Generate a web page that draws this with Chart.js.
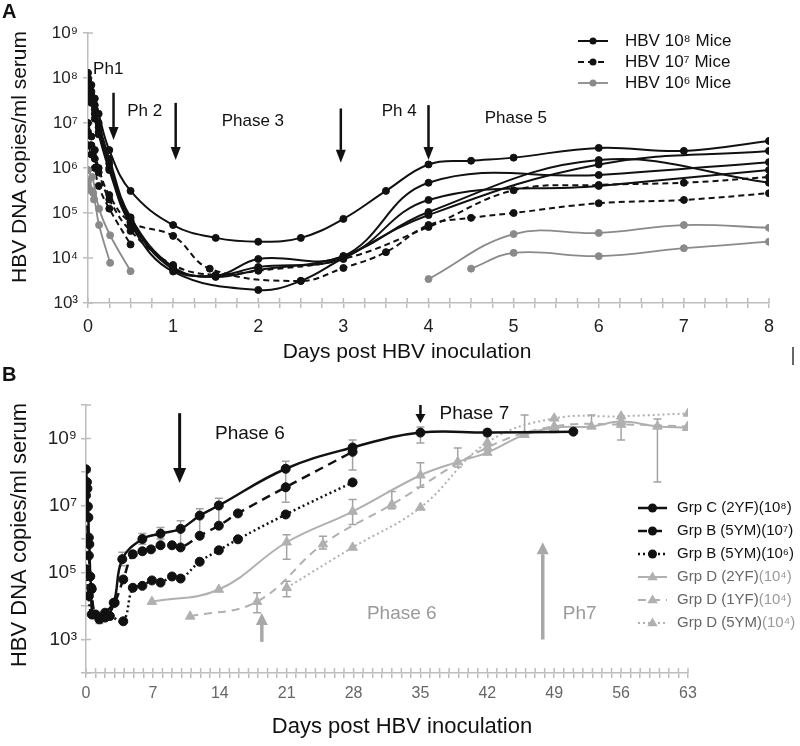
<!DOCTYPE html>
<html>
<head>
<meta charset="utf-8">
<script src="https://cdn.jsdelivr.net/npm/chart.js@4.4.1/dist/chart.umd.min.js"></script>
<style>
  html, body { margin: 0; padding: 0; background: #fff; }
  #wrapA { position: absolute; left: 0; top: 0; width: 800px; height: 380px; }
  #wrapB { position: absolute; left: 0; top: 360px; width: 800px; height: 386px; }
</style>
</head>
<body>
<div id="wrapA"><canvas id="chartA" width="800" height="380"></canvas></div>
<div id="wrapB"><canvas id="chartB" width="800" height="386"></canvas></div>
<script>
/* ---------------- DATA : panel A (days, copies/ml) ---------------- */

const A_DAY_LABELS = [0, 1, 2, 3, 4, 5, 6, 7, 8];
const A_DECADES = [1e3, 1e4, 1e5, 1e6, 1e7, 1e8, 1e9];

// HBV 10^8 mice (solid black)
const m8aDays = [0, 0.04, 0.08, 0.125, 0.25, 0.5, 1, 1.5, 2, 2.5, 3, 3.5, 4, 4.5, 5, 6, 7, 8];
const m8aCopies = [1.3e8, 7e7, 3.5e7, 1.6e7, 2.5e6, 3.1e5, 5.4e4, 2.8e4, 2.3e4, 2.8e4, 7.4e4, 3.1e5, 1.2e6, 1.45e6, 1.7e6, 2.8e6, 2.4e6, 4e6];
const m8bDays = [0, 0.04, 0.08, 0.125, 0.25, 0.5, 1, 1.5, 2, 3, 4, 6, 8];
const m8bCopies = [1e8, 5e7, 2.5e7, 1e7, 1.6e6, 8e4, 6.3e3, 4e3, 9.5e3, 1.1e4, 4.7e5, 7e5, 1.35e6];
const m8cDays = [0, 0.04, 0.08, 0.125, 0.25, 0.5, 1, 1.5, 2, 3, 4, 6, 8];
const m8cCopies = [9e7, 4e7, 2e7, 8e6, 1.25e6, 7e4, 5.6e3, 4e3, 6.3e3, 1e4, 1.95e5, 4e5, 9e5];
const m8dDays = [0, 0.04, 0.08, 0.125, 0.25, 0.5, 1, 1.5, 2, 3, 4, 6, 8];
const m8dCopies = [8e7, 3.2e7, 1.6e7, 6.3e6, 1e6, 6.3e4, 6e3, 3.8e3, 5.4e3, 1.1e4, 1.05e5, 1.5e6, 4.7e5];
const m8eDays = [0, 0.04, 0.08, 0.125, 0.25, 0.5, 1, 2, 2.5, 3, 4, 6, 8];
const m8eCopies = [7e7, 2.8e7, 1.25e7, 5.6e6, 9e5, 5.6e4, 5e3, 1.95e3, 3.1e3, 1e4, 9e4, 1.2e6, 2.4e6];

// HBV 10^7 mice (dashed black)
const m7aDays = [0, 0.04, 0.08, 0.125, 0.25, 0.5, 1, 1.43, 2.5, 3, 3.5, 4, 4.5, 5, 6, 7, 8];
const m7aCopies = [1e7, 5e6, 2.5e6, 1e6, 2.5e5, 6.3e4, 3.1e4, 5.8e3, 3.1e3, 6e3, 1.35e4, 5.4e4, 7.8e4, 1e5, 1.65e5, 1.95e5, 2.75e5];
const m7bDays = [0, 0.04, 0.08, 0.125, 0.25, 0.5, 1, 1.5, 2, 3, 4, 5, 6, 7, 8];
const m7bCopies = [6.3e6, 3.2e6, 1.6e6, 8e5, 2e5, 4e4, 7e3, 4.2e3, 5.2e3, 9.5e3, 4.9e4, 3.2e5, 4.2e5, 4.7e5, 6.3e5];
const m7cDays = [0, 0.04, 0.08, 0.125, 0.25, 0.5];
const m7cCopies = [3.2e6, 2e6, 1e6, 4e5, 1.25e5, 2e4];

// HBV 10^6 mice (grey)
const m6aDays = [0, 0.05, 0.13, 0.26, 0.5];
const m6aCopies = [9e5, 6.3e5, 1.25e5, 3.2e4, 5.1e3];
const m6bDays = [0, 0.06, 0.13, 0.26];
const m6bCopies = [5e5, 2.8e5, 5.4e4, 7.8e3];
const m6cDays = [0, 0.03, 0.07];
const m6cCopies = [4e5, 3.2e5, 2e5];
const m6dDays = [4, 5, 6, 7, 8];
const m6dCopies = [3.4e3, 3.4e4, 3.6e4, 5.4e4, 4.7e4];
const m6eDays = [4.5, 5, 6, 7, 8];
const m6eCopies = [5.8e3, 1.3e4, 1.1e4, 1.65e4, 2.3e4];

// phase marks, panel A
const A_ARROWS = [
  { day: 0.3, from: 4.7e7, to: 4.2e6 },
  { day: 1.03, from: 2.8e7, to: 1.5e6 },
  { day: 2.97, from: 2.1e7, to: 1.3e6 },
  { day: 4.0, from: 2.5e7, to: 1.5e6 }
];
const A_NOTES = [
  { text: "Ph1", day: 0.06, at: 1.6e8 },
  { text: "Ph 2", day: 0.46, at: 1.85e7 },
  { text: "Phase 3", day: 1.57, at: 1.07e7 },
  { text: "Ph 4", day: 3.45, at: 1.85e7 },
  { text: "Phase 5", day: 4.66, at: 1.26e7 }
];

/* ---------------- DATA : panel B ---------------- */

const B_DAY_LABELS = [0, 7, 14, 21, 28, 35, 42, 49, 56, 63];
const B_DECADES = [1e2, 1e3, 1e4, 1e5, 1e6, 1e7, 1e8, 1e9, 1e10];

const grpCDays = [0, 0.1, 0.15, 0.2, 0.25, 0.3, 0.35, 0.45, 0.55, 0.7, 1.4, 2, 2.9, 3.8, 5.9, 7.8, 9.9, 11.9, 13.9, 20.9, 27.9, 35, 42, 51];
const grpCCopies = [1.2e8, 5e7, 3.2e7, 9.3e6, 4.4e6, 1.1e6, 7e5, 7.6e4, 3.5e4, 5.6e3, 4e3, 6.3e3, 1.25e4, 2.5e5, 1e6, 1.45e6, 2e6, 5e6, 1e7, 1.25e8, 5.4e8, 1.5e9, 1.5e9, 1.6e9];
const grpCErrDays = [1.4, 3.8, 5.9, 7.8, 9.9, 11.9, 13.9, 20.9, 27.9, 35, 42];
const grpCErrHi = [5.5e3, 4e5, 1.45e6, 2.2e6, 3.5e6, 8e6, 1.65e7, 2.1e8, 9e8, 2.2e9, 1.9e9];
const grpCErrLo = [3e3, 1.6e5, 7e5, 1e6, 5.6e5, 1.25e6, 2.3e6, 1.25e7, 1.15e8, 7.4e8, 1.2e9];

const grpB7Days = [0, 0.3, 0.6, 1, 2, 3, 3.9, 4.9, 5.9, 6.8, 7.8, 9, 9.9, 11.9, 13.9, 15.9, 20.9, 27.9];
const grpB7Copies = [2e7, 3.2e5, 3.2e4, 5.6e3, 4.5e3, 1.25e4, 6.2e4, 3.5e5, 4.3e5, 4.9e5, 6.5e5, 6.5e5, 5.6e5, 1.25e6, 2.5e6, 5.8e6, 3.5e7, 4e8];

const grpB6Days = [0, 0.3, 0.6, 1.5, 2.5, 3.9, 4.9, 5.9, 6.9, 7.8, 9, 9.9, 11.9, 13.9, 15.9, 20.9, 27.9];
const grpB6Copies = [1.25e5, 2e4, 5.6e3, 4.5e3, 5e3, 3.5e3, 3.5e4, 4e4, 5.8e4, 5e4, 7.6e4, 6.6e4, 2.1e5, 4.6e5, 9.8e5, 5.4e6, 4.9e7];

const grpD2Days = [6.9, 13.9, 21, 27.9, 35, 38.9, 42, 45.9, 49, 52.9, 56, 59.8, 62.9];
const grpD2Copies = [1.35e4, 3.1e4, 8e5, 6.6e6, 8e7, 2e8, 3.8e8, 1.3e9, 2.1e9, 2.3e9, 3.2e9, 2.3e9, 2.1e9];
const grpD2ErrDays = [21, 27.9, 35, 38.9, 45.9, 49, 52.9, 56, 59.8];
const grpD2ErrHi = [1.35e6, 1.5e7, 1.9e8, 5.2e8, 5e9, 3.8e9, 5e9, 4.5e9, 3.8e9];
const grpD2ErrLo = [2.5e5, 2.7e6, 3.5e7, 1.4e8, 1.3e9, 1.5e9, 2.3e9, 9e8, 5e7];

const grpD1Days = [10.9, 17.9, 24.8, 32, 42, 49, 56, 63];
const grpD1Copies = [4.9e3, 1.35e4, 7e5, 1.07e7, 5.4e8, 2.3e9, 2.6e9, 2.3e9];
const grpD1ErrDays = [17.9, 24.8, 32];
const grpD1ErrHi = [2.5e4, 1.2e6, 2.6e7];
const grpD1ErrLo = [6.3e3, 5e5, 8e6];

const grpD5Days = [21, 27.9, 35, 42, 49, 56, 63];
const grpD5Copies = [3.5e4, 5.6e5, 8.7e6, 7.6e8, 4e9, 4.6e9, 5.6e9];
const grpD5ErrDays = [21];
const grpD5ErrHi = [5.5e4];
const grpD5ErrLo = [1.9e4];

const B_ARROWS = [
  { day: 9.8, from: 5.7e9, to: 4.7e7, color: "#111", width: 3, head: [13, 15] },
  { day: 35, from: 1e10, to: 2.9e9, color: "#111", width: 2.5, head: [10, 9] },
  { day: 18.4, from: 8.5e2, to: 6.2e3, color: "#a8a8a8", width: 3.5, head: [12, 12] },
  { day: 47.8, from: 1e3, to: 8e5, color: "#a8a8a8", width: 3.5, head: [12, 12] }
];
const B_NOTES = [
  { text: "Phase 6", day: 13.5, at: 1.35e9, color: "#111" },
  { text: "Phase 7", day: 37, at: 5.4e9, color: "#111" },
  { text: "Phase 6", day: 29.4, at: 5.8e3, color: "#9a9a9a" },
  { text: "Ph7", day: 49.9, at: 5.8e3, color: "#9a9a9a" }
];

/* ---------------- STYLE ---------------- */

const BLACK = "#111";
const GREY_A = "#8a8a8a";
const GREY_B = "#b0b0b0";
const AXIS = "#bdbdbd";
const ERR = "#a3a3a3";
const FONT = "'Liberation Sans', Arial, sans-serif";
const SUP = ["⁰", "¹", "²", "³", "⁴", "⁵", "⁶", "⁷", "⁸", "⁹"];

function pow10(n) {
  return "10" + String(n).split("").map(c => SUP[+c]).join("");
}

function series(days, copies, style, err) {
  const ds = Object.assign({
    data: days.map((d, i) => ({ x: d, y: copies[i] })),
    fill: false,
    tension: 0.4,
    pointBorderWidth: 1
  }, style);
  ds.pointBackgroundColor = style.borderColor;
  ds.pointBorderColor = style.borderColor;
  ds.backgroundColor = style.borderColor;
  if (err) ds.err = err;
  return ds;
}

/* ---------------- DRAW HELPERS ---------------- */

function drawArrow(ctx, px, y0, y1, color, width, head) {
  const dir = y1 > y0 ? 1 : -1;
  const [hw, hl] = head;
  ctx.save();
  ctx.strokeStyle = color;
  ctx.fillStyle = color;
  ctx.lineWidth = width;
  ctx.beginPath();
  ctx.moveTo(px, y0);
  ctx.lineTo(px, y1 - dir * hl);
  ctx.stroke();
  ctx.beginPath();
  ctx.moveTo(px - hw / 2, y1 - dir * hl);
  ctx.lineTo(px + hw / 2, y1 - dir * hl);
  ctx.lineTo(px, y1);
  ctx.closePath();
  ctx.fill();
  ctx.restore();
}

function drawMarker(ctx, style, x, y, r, color) {
  ctx.fillStyle = color;
  ctx.beginPath();
  if (style === "triangle") {
    ctx.moveTo(x, y - r);
    ctx.lineTo(x + r * 0.95, y + r * 0.6);
    ctx.lineTo(x - r * 0.95, y + r * 0.6);
    ctx.closePath();
  } else {
    ctx.arc(x, y, r, 0, Math.PI * 2);
  }
  ctx.fill();
}

// small inner half of each axis tick, so the marks cross the axis line
function drawInnerTicks(chart) {
  const { ctx, chartArea, scales: { x, y } } = chart;
  ctx.save();
  ctx.strokeStyle = AXIS;
  ctx.lineWidth = 1.5;
  ctx.beginPath();
  x.ticks.forEach(t => {
    const px = x.getPixelForValue(t.value);
    ctx.moveTo(px, chartArea.bottom);
    ctx.lineTo(px, chartArea.bottom - 5);
  });
  y.ticks.forEach(t => {
    const py = y.getPixelForValue(t.value);
    ctx.moveTo(chartArea.left, py);
    ctx.lineTo(chartArea.left + 5, py);
  });
  ctx.stroke();
  ctx.restore();
}

function makeDecor(cfg) {
  return {
    id: "decor",
    beforeDatasetsDraw(chart) {
      drawInnerTicks(chart);
      const { ctx, scales: { x, y } } = chart;
      chart.data.datasets.forEach(ds => {
        if (!ds.err) return;
        ctx.save();
        ctx.strokeStyle = ERR;
        ctx.lineWidth = 1.5;
        ds.err.days.forEach((d, i) => {
          const px = x.getPixelForValue(d);
          const top = y.getPixelForValue(ds.err.hi[i]);
          const bot = y.getPixelForValue(ds.err.lo[i]);
          ctx.beginPath();
          ctx.moveTo(px, top); ctx.lineTo(px, bot);
          ctx.moveTo(px - 4, top); ctx.lineTo(px + 4, top);
          ctx.moveTo(px - 4, bot); ctx.lineTo(px + 4, bot);
          ctx.stroke();
        });
        ctx.restore();
      });
    },
    afterDraw(chart) {
      const { ctx, scales: { x, y } } = chart;

      cfg.arrows.forEach(a => drawArrow(ctx, x.getPixelForValue(a.day),
        y.getPixelForValue(a.from), y.getPixelForValue(a.to),
        a.color || BLACK, a.width || 2.5, a.head || [10, 13]));

      ctx.save();
      ctx.textBaseline = "middle";
      ctx.textAlign = "left";
      cfg.notes.forEach(n => {
        ctx.font = cfg.noteFont;
        ctx.fillStyle = n.color || "#111";
        ctx.fillText(n.text, x.getPixelForValue(n.day), y.getPixelForValue(n.at));
      });
      ctx.restore();

      // titles and panel letters
      cfg.texts.forEach(t => {
        ctx.save();
        ctx.font = t.font;
        ctx.fillStyle = t.color || "#111";
        ctx.textAlign = t.align || "center";
        ctx.textBaseline = t.baseline || "middle";
        ctx.translate(t.x, t.y);
        if (t.rotate) ctx.rotate(t.rotate);
        ctx.fillText(t.text, 0, 0);
        ctx.restore();
      });

      (cfg.marks || []).forEach(m => {
        ctx.save();
        ctx.strokeStyle = "#333";
        ctx.lineWidth = 1.5;
        ctx.beginPath();
        ctx.moveTo(m[0], m[1]); ctx.lineTo(m[2], m[3]);
        ctx.stroke();
        ctx.restore();
      });

      // legend
      const lg = cfg.legend;
      lg.items.forEach((it, i) => {
        const ds = chart.data.datasets[it.ds];
        const ly = lg.y + i * lg.gap;
        ctx.save();
        ctx.strokeStyle = ds.borderColor;
        ctx.lineWidth = ds.borderWidth;
        ctx.setLineDash(ds.borderDash || []);
        ctx.beginPath();
        ctx.moveTo(lg.x0, ly); ctx.lineTo(lg.x1, ly);
        ctx.stroke();
        ctx.setLineDash([]);
        drawMarker(ctx, ds.pointStyle, (lg.x0 + lg.x1) / 2, ly, ds.pointRadius, ds.borderColor);
        ctx.font = lg.font;
        ctx.textBaseline = "middle";
        ctx.textAlign = "left";
        ctx.fillStyle = it.color || "#111";
        ctx.fillText(it.text, lg.tx, ly);
        if (it.tail) {
          const w = ctx.measureText(it.text).width;
          ctx.fillStyle = it.tailColor;
          ctx.fillText(it.tail, lg.tx + w, ly);
        }
        ctx.restore();
      });
    }
  };
}

function decadeTicks(list) {
  return scale => { scale.ticks = list.map(v => ({ value: v })); };
}

function stepTicks(max, step) {
  return scale => {
    const t = [];
    for (let i = 0; i * step <= max + 1e-9; i++) t.push({ value: i * step });
    scale.ticks = t;
  };
}

/* ---------------- PANEL A ---------------- */

const sA8 = { borderColor: BLACK, borderWidth: 2, pointRadius: 3.5, pointStyle: "circle" };
const sA7 = { borderColor: BLACK, borderWidth: 2, pointRadius: 3.5, pointStyle: "circle", borderDash: [6, 4] };
const sA6 = { borderColor: GREY_A, borderWidth: 1.8, pointRadius: 3.5, pointStyle: "circle" };

const datasetsA = [
  series(m8aDays, m8aCopies, sA8),
  series(m7aDays, m7aCopies, sA7),
  series(m6aDays, m6aCopies, sA6),
  series(m8bDays, m8bCopies, sA8),
  series(m8cDays, m8cCopies, sA8),
  series(m8dDays, m8dCopies, sA8),
  series(m8eDays, m8eCopies, sA8),
  series(m7bDays, m7bCopies, sA7),
  series(m7cDays, m7cCopies, sA7),
  series(m6bDays, m6bCopies, sA6),
  series(m6cDays, m6cCopies, sA6),
  series(m6dDays, m6dCopies, sA6),
  series(m6eDays, m6eCopies, sA6)
];

new Chart(document.getElementById("chartA"), {
  type: "line",
  data: { datasets: datasetsA },
  options: {
    responsive: false,
    animation: false,
    layout: { padding: { top: 33, right: 31, bottom: 0, left: 0 } },
    plugins: { legend: { display: false }, tooltip: { enabled: false } },
    scales: {
      x: {
        type: "linear", min: 0, max: 8,
        afterBuildTicks: stepTicks(8, 0.25),
        afterFit: s => { s.height = 77; },
        grid: { drawOnChartArea: false, tickLength: 5, color: AXIS, lineWidth: 1.5 },
        border: { color: AXIS, width: 1.5 },
        ticks: {
          autoSkip: false, maxRotation: 0, padding: 8,
          color: "#222", font: { family: FONT, size: 18 },
          callback: v => A_DAY_LABELS.includes(v) ? String(v) : ""
        }
      },
      y: {
        type: "logarithmic", min: 1e3, max: 1e9,
        afterBuildTicks: decadeTicks(A_DECADES),
        afterFit: s => { s.width = 88; },
        grid: { drawOnChartArea: false, tickLength: 5, color: AXIS, lineWidth: 1.5 },
        border: { color: AXIS, width: 1.5 },
        ticks: {
          padding: 5, color: "#222", font: { family: FONT, size: 17 },
          callback: v => pow10(Math.round(Math.log10(v)))
        }
      }
    }
  },
  plugins: [makeDecor({
    arrows: A_ARROWS,
    notes: A_NOTES,
    noteFont: "17px " + FONT,
    texts: [
      { text: "A", x: 2, y: 2, align: "left", baseline: "top", font: "bold 20px " + FONT },
      { text: "HBV DNA copies/ml serum", x: 20, y: 157, rotate: -Math.PI / 2, font: "21px " + FONT },
      { text: "Days post HBV inoculation", x: 407, y: 352, font: "21px " + FONT }
    ],
    marks: [[793, 347, 793, 365]],
    legend: {
      x0: 578, x1: 608, tx: 625, y: 41, gap: 21, font: "17px " + FONT,
      items: [
        { ds: 0, text: "HBV " + pow10(8) + " Mice" },
        { ds: 1, text: "HBV " + pow10(7) + " Mice" },
        { ds: 2, text: "HBV " + pow10(6) + " Mice" }
      ]
    }
  })]
});

/* ---------------- PANEL B ---------------- */

const sC = { borderColor: BLACK, borderWidth: 2.5, pointRadius: 4.5, pointStyle: "circle" };
const sB7 = { borderColor: BLACK, borderWidth: 2.5, pointRadius: 4.5, pointStyle: "circle", borderDash: [9, 6] };
const sB6 = { borderColor: BLACK, borderWidth: 2.5, pointRadius: 4.5, pointStyle: "circle", borderDash: [2, 3] };
const sD2 = { borderColor: GREY_B, borderWidth: 2, pointRadius: 5.5, pointStyle: "triangle" };
const sD1 = { borderColor: GREY_B, borderWidth: 2, pointRadius: 5.5, pointStyle: "triangle", borderDash: [8, 6] };
const sD5 = { borderColor: GREY_B, borderWidth: 2, pointRadius: 5.5, pointStyle: "triangle", borderDash: [2, 3] };

const datasetsB = [
  series(grpCDays, grpCCopies, sC, { days: grpCErrDays, hi: grpCErrHi, lo: grpCErrLo }),
  series(grpB7Days, grpB7Copies, sB7),
  series(grpB6Days, grpB6Copies, sB6),
  series(grpD2Days, grpD2Copies, sD2, { days: grpD2ErrDays, hi: grpD2ErrHi, lo: grpD2ErrLo }),
  series(grpD1Days, grpD1Copies, sD1, { days: grpD1ErrDays, hi: grpD1ErrHi, lo: grpD1ErrLo }),
  series(grpD5Days, grpD5Copies, sD5, { days: grpD5ErrDays, hi: grpD5ErrHi, lo: grpD5ErrLo })
];

new Chart(document.getElementById("chartB"), {
  type: "line",
  data: { datasets: datasetsB },
  options: {
    responsive: false,
    animation: false,
    layout: { padding: { top: 45, right: 112, bottom: 0, left: 0 } },
    plugins: { legend: { display: false }, tooltip: { enabled: false } },
    scales: {
      x: {
        type: "linear", min: 0, max: 63,
        afterBuildTicks: stepTicks(63, 1),
        afterFit: s => { s.height = 73; },
        grid: { drawOnChartArea: false, tickLength: 5, color: AXIS, lineWidth: 1.5 },
        border: { color: AXIS, width: 1.5 },
        ticks: {
          autoSkip: false, maxRotation: 0, padding: 6,
          color: "#666", font: { family: FONT, size: 16 },
          callback: v => B_DAY_LABELS.includes(v) ? String(v) : ""
        }
      },
      y: {
        type: "logarithmic", min: 1e2, max: 1e10,
        afterBuildTicks: decadeTicks(B_DECADES),
        afterFit: s => { s.width = 86; },
        grid: { drawOnChartArea: false, tickLength: 5, color: AXIS, lineWidth: 1.5 },
        border: { color: AXIS, width: 1.5 },
        ticks: {
          padding: 4, color: "#222", font: { family: FONT, size: 19 },
          callback: v => {
            const e = Math.round(Math.log10(v));
            return e % 2 === 1 ? pow10(e) : "";
          }
        }
      }
    }
  },
  plugins: [makeDecor({
    arrows: B_ARROWS,
    notes: B_NOTES,
    noteFont: "19px " + FONT,
    texts: [
      { text: "B", x: 2, y: 5, align: "left", baseline: "top", font: "bold 20px " + FONT },
      { text: "HBV DNA copies/ml serum", x: 20, y: 175, rotate: -Math.PI / 2, font: "22px " + FONT },
      { text: "Days post HBV inoculation", x: 402, y: 367, font: "22px " + FONT }
    ],
    legend: {
      x0: 638, x1: 667, tx: 677, y: 148, gap: 23, font: "15px " + FONT,
      items: [
        { ds: 0, text: "Grp C (2YF)(" + pow10(8) + ")" },
        { ds: 1, text: "Grp B (5YM)(" + pow10(7) + ")" },
        { ds: 2, text: "Grp B (5YM)(" + pow10(6) + ")" },
        { ds: 3, text: "Grp D (2YF)", color: "#666", tail: "(" + pow10(4) + ")", tailColor: "#9a9a9a" },
        { ds: 4, text: "Grp D (1YF)", color: "#666", tail: "(" + pow10(4) + ")", tailColor: "#9a9a9a" },
        { ds: 5, text: "Grp D (5YM)", color: "#666", tail: "(" + pow10(4) + ")", tailColor: "#9a9a9a" }
      ]
    }
  })]
});
</script>
</body>
</html>
